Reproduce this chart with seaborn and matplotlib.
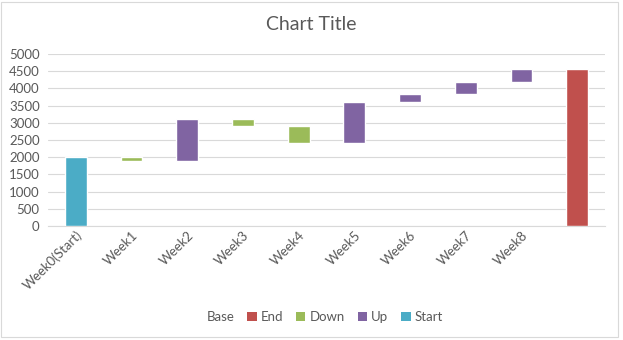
import matplotlib
matplotlib.use("Agg")
import matplotlib.pyplot as plt
import seaborn as sns
import pandas as pd
import numpy as np
from matplotlib.patches import Patch

categories = ["Week0(Start)", "Week1", "Week2", "Week3", "Week4", "Week5",
              "Week6", "Week7", "Week8", ""]
series = ["Start", "Down", "Up", "Down", "Down", "Up", "Up", "Up", "Up", "End"]
base_vals = [0, 1900, 1900, 2900, 2400, 2400, 3600, 3850, 4200, 0]
delta_vals = [2000, 100, 1200, 200, 500, 1200, 250, 350, 370, 4570]
yticks = [0, 500, 1000, 1500, 2000, 2500, 3000, 3500, 4000, 4500, 5000]

colors = {"Start": "#4BACC6", "Up": "#8064A2", "Down": "#9BBB59", "End": "#C0504D"}
legend_order = ["Base", "End", "Down", "Up", "Start"]

sns.set_theme(style="white")
plt.rcParams["font.family"] = ["Lato", "DejaVu Sans"]

df = pd.DataFrame({"cat": categories, "series": series,
                   "base": base_vals, "delta": delta_vals})

fig = plt.figure(figsize=(6.23, 3.40), dpi=100)
ax = fig.add_axes([48/623, 1 - 226/340, (605-48)/623, (226-54)/340])

for s in ["Start", "Down", "Up", "End"]:
    sub = df[df["series"] == s]
    sns.barplot(data=sub, x="cat", y="delta", order=categories, color=colors[s],
                saturation=1, width=0.39, bottom=sub["base"].to_numpy(),
                ax=ax, zorder=3)

ax.set_ylim(0, 5000)
ax.set_yticks(yticks)
ax.set_xlim(-0.5, len(categories) - 0.5)
ax.set_xlabel("")
ax.set_ylabel("")
ax.grid(axis="y", color="#D9D9D9", linewidth=0.8, zorder=0)
ax.set_axisbelow(True)
for sp in ["top", "right", "left"]:
    ax.spines[sp].set_visible(False)
ax.spines["bottom"].set_color("#D9D9D9")
ax.spines["bottom"].set_linewidth(0.8)

ax.tick_params(axis="y", labelsize=9.5, labelcolor="#595959", length=0, pad=6)
ax.tick_params(axis="x", labelsize=9.5, labelcolor="#595959", length=0, pad=2)
ax.set_xticks(range(len(categories)))
ax.set_xticklabels(categories, rotation=45, ha="right", rotation_mode="anchor")

fig.text(0.5, 1 - 24/340, "Chart Title", ha="center", va="center",
         fontsize=14, color="#595959")

handles = [Patch(facecolor="none", edgecolor="none", label="Base")]
for s in ["End", "Down", "Up", "Start"]:
    handles.append(Patch(facecolor=colors[s], edgecolor="none", label=s))
fig.legend(handles=handles, loc="center", bbox_to_anchor=(318/623, 1 - 317/340),
           ncol=5, frameon=False, fontsize=9.5, labelcolor="#595959",
           handlelength=0.7, handleheight=0.7, handletextpad=0.3, columnspacing=1.0)

fig.patches.append(plt.Rectangle((0.002, 0.01), 0.99, 0.985, transform=fig.transFigure,
                                 fill=False, edgecolor="#D9D9D9", linewidth=0.8))

fig.savefig("out.png", dpi=100)
